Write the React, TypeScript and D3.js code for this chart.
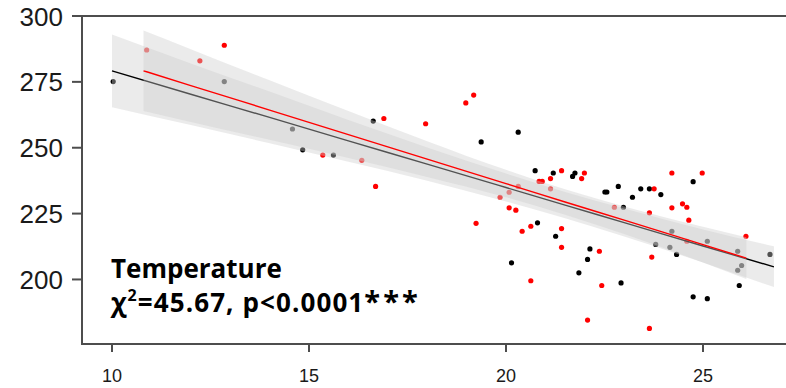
import React from "react";
import * as d3 from "d3";

// Observations, two groups
const blackX = [10.03, 12.85, 14.58, 14.84, 15.62, 16.63, 19.37, 20.31, 20.74, 21.2, 21.69, 21.75, 20.8, 21.26, 20.14, 22.13, 22.07, 21.85, 22.92, 22.51, 22.56, 22.85, 23.21, 23.42, 23.64, 23.93, 22.98, 24.75, 23.8, 24.16, 24.21, 24.33, 25.11, 25.88, 25.98, 25.88, 26.7, 25.92, 24.75, 25.11];
const blackY = [275.1, 275.1, 257.1, 249.2, 247.2, 260.1, 252.2, 255.9, 241.3, 240.4, 239.1, 240.4, 221.5, 216.4, 206.3, 211.6, 207.6, 202.5, 198.7, 233.2, 233.2, 235.3, 231.2, 234.4, 234.4, 232.2, 227.4, 237.1, 213.3, 212.2, 218.3, 209.5, 214.5, 210.7, 205.3, 203.5, 209.5, 197.7, 193.4, 192.7];

const redX = [10.88, 12.23, 12.85, 15.35, 16.34, 16.9, 16.69, 17.96, 18.98, 19.18, 19.24, 21.41, 21.92, 21.99, 20.84, 20.92, 21.13, 21.13, 20.31, 20.08, 19.85, 20.08, 20.25, 20.41, 20.63, 21.41, 21.41, 20.63, 22.37, 22.43, 22.07, 22.75, 23.76, 24.21, 24.98, 24.21, 24.48, 24.59, 24.64, 23.64, 23.7, 24.59, 26.09, 23.64];
const redY = [287.1, 283.0, 288.9, 247.2, 245.2, 261.1, 235.3, 259.1, 267.0, 270.0, 221.3, 241.3, 238.3, 240.4, 237.2, 237.2, 238.3, 234.4, 235.3, 233.1, 231.2, 227.2, 226.3, 218.3, 220.2, 219.3, 212.2, 199.5, 210.7, 197.7, 184.6, 227.4, 234.4, 240.4, 240.4, 227.2, 228.7, 227.4, 222.5, 225.3, 208.5, 214.5, 216.4, 181.4];

// Fitted lines with confidence bands
const blackBandX = [10, 12, 14, 16, 18, 20, 21.5, 23, 25, 26.8];
const blackFit = [279.2, 270.3, 261.5, 252.6, 243.8, 234.9, 228.2, 221.6, 212.7, 204.8];
const blackLo = [265.4, 258.6, 251.7, 244.7, 237.5, 229.6, 223.2, 216.3, 206.4, 197.1];
const blackHi = [293.0, 282.0, 271.3, 260.5, 250.1, 240.2, 233.2, 226.9, 219.0, 212.6];

const redBandX = [10.8, 12, 14, 16, 18, 20, 21.5, 23, 25, 26.1];
const redFit = [279.2, 273.6, 264.3, 255.0, 245.7, 236.4, 229.4, 222.5, 213.2, 208.1];
const redLo = [263.9, 259.8, 253.0, 246.1, 238.9, 231.2, 224.6, 217.3, 206.4, 200.2];
const redHi = [294.5, 287.4, 275.6, 263.9, 252.5, 241.6, 234.2, 227.7, 220.0, 216.0];

const xTicks = [10, 15, 20, 25];
const yTicks = [200, 225, 250, 275, 300];

const W = 786;
const H = 388;

export default function App() {
  const x = d3.scaleLinear().domain([10, 25]).range([112, 703]);
  const y = d3.scaleLinear().domain([175.5, 300]).range([344, 16]);

  const area = (xs: number[], lo: number[], hi: number[]) =>
    d3
      .area<number>()
      .x((_, i) => x(xs[i]))
      .y0((_, i) => y(lo[i]))
      .y1((_, i) => y(hi[i]))
      .curve(d3.curveMonotoneX)(xs) as string;

  const line = (xs: number[], ys: number[]) =>
    d3
      .line<number>()
      .x((_, i) => x(xs[i]))
      .y((_, i) => y(ys[i]))
      .curve(d3.curveMonotoneX)(xs) as string;

  const axisColor = "#4d4d4d";
  const bandFill = "#cdcdcd";
  const bandOpacity = 0.4;

  return (
    <svg
      width={W}
      height={H}
      style={{ position: "absolute", left: 0, top: 0, background: "#fff" }}
    >
      <rect x={0} y={0} width={W} height={H} fill="#fff" />

      {/* points */}
      {blackX.map((v, i) => (
        <circle key={"b" + i} cx={x(v)} cy={y(blackY[i])} r={2.6} fill="#000" />
      ))}
      {redX.map((v, i) => (
        <circle key={"r" + i} cx={x(v)} cy={y(redY[i])} r={2.6} fill="#ff0000" />
      ))}

      {/* black group fit */}
      <path d={area(blackBandX, blackLo, blackHi)} fill={bandFill} fillOpacity={bandOpacity} />
      <path d={line(blackBandX, blackFit)} fill="none" stroke="#000" strokeWidth={1.4} />

      {/* red group fit */}
      <path d={area(redBandX, redLo, redHi)} fill={bandFill} fillOpacity={bandOpacity} />
      <path d={line(redBandX, redFit)} fill="none" stroke="#ff0000" strokeWidth={1.4} />

      {/* axes */}
      <line x1={82} x2={W} y1={16} y2={16} stroke={axisColor} strokeWidth={2} />
      <line x1={82} x2={82} y1={15} y2={345} stroke={axisColor} strokeWidth={2} />
      <line x1={81} x2={W} y1={344} y2={344} stroke={axisColor} strokeWidth={2} />

      {yTicks.map((t) => (
        <g key={"y" + t}>
          <line x1={72} x2={82} y1={y(t)} y2={y(t)} stroke={axisColor} strokeWidth={2} />
          <text
            x={63}
            y={y(t) + 9.5}
            textAnchor="end"
            fontFamily="'Liberation Sans', Arial, sans-serif"
            fontSize={26}
            fill="#1a1a1a"
          >
            {t}
          </text>
        </g>
      ))}

      {xTicks.map((t) => (
        <g key={"x" + t}>
          <line x1={x(t)} x2={x(t)} y1={344} y2={352} stroke={axisColor} strokeWidth={2} />
          <text
            x={x(t)}
            y={381.5}
            textAnchor="middle"
            fontFamily="'Liberation Sans', Arial, sans-serif"
            fontSize={18}
            fill="#1a1a1a"
          >
            {t}
          </text>
        </g>
      ))}

      {/* annotation */}
      <text
        x={111}
        y={278}
        fontFamily="'Open Sans', sans-serif"
        fontWeight={700}
        fontSize={26}
        fill="#000"
      >
        Temperature
      </text>
      <text
        x={111}
        y={312}
        fontFamily="'Open Sans', sans-serif"
        fontWeight={700}
        fontSize={26}
        letterSpacing={1.1}
        fill="#000"
      >
        χ<tspan fontSize={16} dy={-11}>2</tspan>
        <tspan dy={11}>=45.67, p&lt;0.0001</tspan>
        <tspan fontSize={29} letterSpacing={3}>***</tspan>
      </text>
    </svg>
  );
}
